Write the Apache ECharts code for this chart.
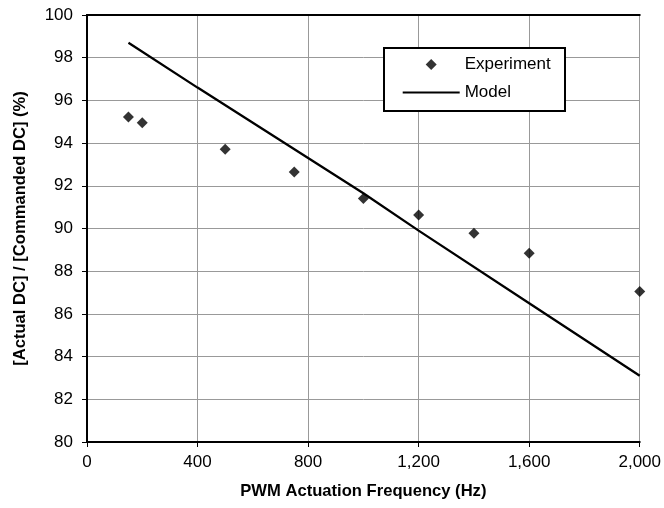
<!DOCTYPE html>
<html>
<head>
<meta charset="utf-8">
<script src="https://cdn.jsdelivr.net/npm/echarts@6/dist/echarts.min.js"></script>
<style>html,body{margin:0;padding:0;background:#fff}#c{width:664px;height:508px}</style>
</head>
<body>
<div id="c"></div>
<script>
var expFreq = [150, 200, 500, 750, 1000, 1200, 1400, 1600, 2000];
var expVal = [95.22, 94.95, 93.71, 92.65, 91.4, 90.63, 89.78, 88.84, 87.05];
var modelFreq = [150, 400, 800, 1000, 1200, 1600, 2000];
var modelVal = [98.7, 96.6, 93.3, 91.65, 89.9, 86.5, 83.1];
var xTicks = [0, 400, 800, 1200, 1600, 2000];
var yTicks = [80, 82, 84, 86, 88, 90, 92, 94, 96, 98, 100];

var FONT = "'Liberation Sans', Arial, sans-serif";
var chart = echarts.init(document.getElementById('c'));
function fmtNum(v){ return String(v).replace(/\B(?=(\d{3})+(?!\d))/g, ','); }
var xMin = xTicks[0], xMax = xTicks[xTicks.length-1];
var yMin = yTicks[0], yMax = yTicks[yTicks.length-1];
chart.setOption({
  animation: false,
  backgroundColor: '#fff',
  textStyle: { fontFamily: FONT },
  grid: { left: 87, top: 15, right: 23.5, bottom: 66, show: false, containLabel: false },
  xAxis: [{
    type: 'value', min: xMin, max: xMax, interval: 400,
    name: 'PWM Actuation Frequency (Hz)', nameLocation: 'middle', nameGap: 41,
    nameTextStyle: { fontFamily: FONT, fontSize: 16.6, fontWeight: 'bold', color: '#000' },
    axisLine: { show: true, lineStyle: { color: '#000', width: 2 } },
    axisTick: { show: true, length: 5, lineStyle: { color: '#000', width: 1 } },
    axisLabel: { margin: 12, fontSize: 17, color: '#000', fontFamily: FONT, formatter: function(v){ return fmtNum(v); } },
    splitLine: { show: true, lineStyle: { color: '#999', width: 1 } }
  }, {
    type: 'value', position: 'top', min: xMin, max: xMax, interval: 400,
    axisLine: { show: true, lineStyle: { color: '#000', width: 2 } },
    axisTick: { show: false }, axisLabel: { show: false }, splitLine: { show: false }
  }],
  yAxis: [{
    type: 'value', min: yMin, max: yMax, interval: 2,
    name: '[Actual DC] / [Commanded DC] (%)', nameLocation: 'middle', nameGap: 58,
    nameTextStyle: { fontFamily: FONT, fontSize: 16.6, fontWeight: 'bold', color: '#000' },
    axisLine: { show: true, lineStyle: { color: '#000', width: 2 } },
    axisTick: { show: true, length: 5, lineStyle: { color: '#000', width: 1 } },
    axisLabel: { margin: 14, fontSize: 17, color: '#000', fontFamily: FONT },
    splitLine: { show: true, lineStyle: { color: '#999', width: 1 } }
  }, {
    type: 'value', position: 'right', min: yMin, max: yMax, interval: 2,
    axisLine: { show: true, lineStyle: { color: '#000', width: 2 } },
    axisTick: { show: false }, axisLabel: { show: false }, splitLine: { show: false }
  }],
  graphic: [{
    type: 'rect', z: 50,
    shape: { x: 384, y: 48, width: 181, height: 63 },
    style: { fill: '#fff', stroke: '#000', lineWidth: 2 }
  }],
  legend: {
    z: 100, orient: 'vertical', left: 402.7, top: 56, padding: 0,
    itemWidth: 57, itemHeight: 11, itemGap: 11, symbolKeepAspect: true,
    textStyle: { fontFamily: FONT, fontSize: 17, color: '#000' },
    data: [
      { name: 'Experiment', icon: 'path://M5,0L10,5L5,10L0,5Z', itemStyle: { color: '#000' } },
      { name: 'Model', icon: 'path://M0,0H57V2.2H0Z', itemStyle: { color: '#000' } }
    ]
  },
  series: [
    {
      name: 'Experiment', type: 'scatter', symbol: 'diamond', symbolSize: 11, z: 5,
      itemStyle: { color: '#000' },
      data: expFreq.map(function(f, i){ return [f, expVal[i]]; })
    },
    {
      name: 'Model', type: 'line', symbol: 'none', showSymbol: false,
      lineStyle: { color: '#000', width: 2.3 }, itemStyle: { color: '#000' },
      data: modelFreq.map(function(f, i){ return [f, modelVal[i]]; })
    }
  ]
});
</script>
</body>
</html>
